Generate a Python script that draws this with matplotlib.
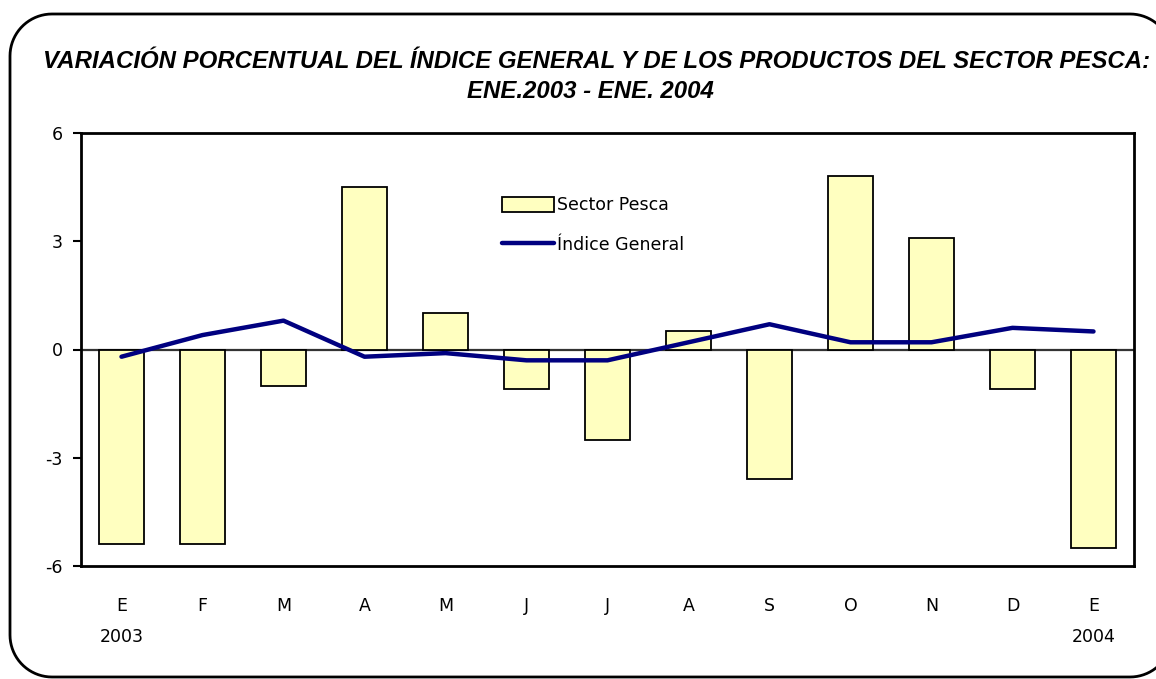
import matplotlib
matplotlib.use("Agg")
import matplotlib.pyplot as plt
import matplotlib.transforms as mtransforms
from matplotlib.patches import PathPatch
from matplotlib.path import Path
import numpy as np

# data
meses = ["E", "F", "M", "A", "M", "J", "J", "A", "S", "O", "N", "D", "E"]
anios = {0: "2003", 12: "2004"}
sector_pesca = [-5.4, -5.4, -1.0, 4.5, 1.0, -1.1, -2.5, 0.5, -3.6, 4.8, 3.1, -1.1, -5.5]
indice_general = [-0.2, 0.4, 0.8, -0.2, -0.1, -0.3, -0.3, 0.2, 0.7, 0.2, 0.2, 0.6, 0.5]
yticks = [-6, -3, 0, 3, 6]

W, H = 1156, 679
fig = plt.figure(figsize=(W / 100, H / 100), dpi=100)
ax = fig.add_axes([81 / W, 1 - 566 / H, 1053 / W, 433 / H])

x = np.arange(len(meses))
ax.axhline(0, color="#333333", lw=1.6, zorder=1)
barras = ax.bar(x, sector_pesca, width=0.56, color="#FFFFC0", edgecolor="black",
                linewidth=1.3, label="Sector Pesca", zorder=2)
linea, = ax.plot(x, indice_general, color="#000080", lw=3.2, label="Índice General",
                 zorder=3, solid_capstyle="round")

ax.set_xlim(-0.5, len(meses) - 0.5)
ax.set_ylim(-6, 6)
ax.set_yticks(yticks)
ax.set_yticklabels([str(v) for v in yticks])
ax.set_xticks(x)
ax.set_xticklabels(meses)
ax.tick_params(axis="x", length=0, pad=22, labelsize=12.5)
ax.tick_params(axis="y", length=6, width=1.5, pad=7, labelsize=12.5)
for sp in ax.spines.values():
    sp.set_linewidth(2)

# year labels under first and last month
trans = mtransforms.blended_transform_factory(ax.transData, ax.transAxes)
for i, txt in anios.items():
    ax.text(x[i], -0.165, txt, transform=trans, ha="center", va="center",
            fontsize=12.5)

ax.legend([barras, linea], ["Sector Pesca", "Índice General"],
          loc="upper left", bbox_to_anchor=(0.393, 0.87), frameon=False,
          fontsize=12.5, handlelength=3.0, handleheight=1.0,
          handletextpad=0.2, labelspacing=1.25, borderaxespad=0)

fig.text(597 / W, 1 - 62 / H, "VARIACIÓN PORCENTUAL DEL ÍNDICE GENERAL Y DE LOS PRODUCTOS DEL SECTOR PESCA:",
         ha="center", va="center", fontsize=17.3, fontweight="bold", style="italic",
         family="Liberation Sans")
fig.text(590 / W, 1 - 92 / H, "ENE.2003 - ENE. 2004",
         ha="center", va="center", fontsize=17.3, fontweight="bold", style="italic",
         family="Liberation Sans")

# rounded outer frame (pixel coords, cut off on the right like the original)
x0, x1, y0, y1, r = 10, 1172, 2, 665, 42
pts = []
for cx, cy, a0 in [(x1 - r, y1 - r, 0), (x0 + r, y1 - r, 90),
                   (x0 + r, y0 + r, 180), (x1 - r, y0 + r, 270)]:
    ang = np.radians(np.linspace(a0, a0 + 90, 20))
    pts += list(zip(cx + r * np.cos(ang), cy + r * np.sin(ang)))
pts.append(pts[0])
marco = PathPatch(Path(np.array(pts)), transform=fig.dpi_scale_trans + mtransforms.Affine2D(),
                  fill=False, edgecolor="black", linewidth=2)
marco.set_transform(mtransforms.Affine2D().scale(1 / 100) + fig.dpi_scale_trans)
fig.patches.append(marco)

fig.savefig("out.png", dpi=100)
